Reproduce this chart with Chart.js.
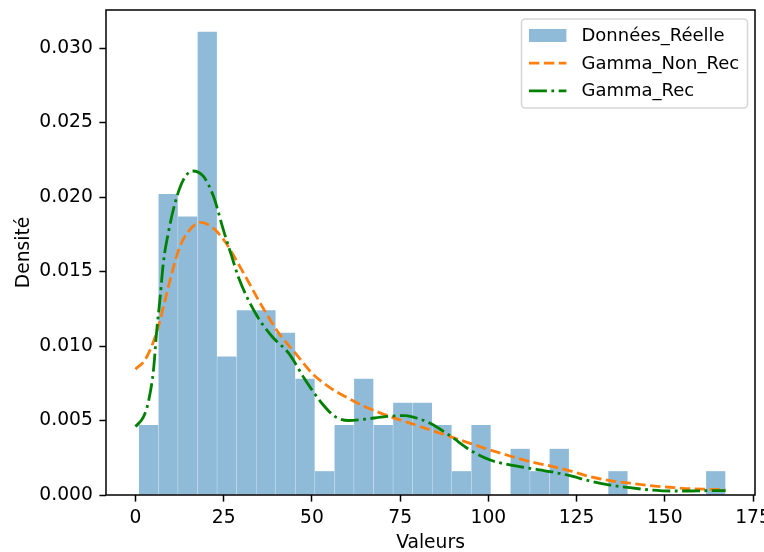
<!DOCTYPE html>
<html>
<head>
<meta charset="utf-8">
<script src="https://cdn.jsdelivr.net/npm/chart.js@4.4.1/dist/chart.umd.min.js"></script>
<style>
  html, body { margin: 0; padding: 0; background: #fff; }
  canvas { display: block; }
</style>
</head>
<body>
<canvas id="histChart" width="764" height="552"></canvas>
<script>
// histogram, 30 bins
const binStart = 0.94;
const binWidth = 5.542;
const density = [0.0047, 0.0202, 0.0187, 0.0311, 0.0093, 0.0124, 0.0124, 0.0109, 0.0078, 0.0016,
                 0.0047, 0.0078, 0.0047, 0.0062, 0.0062, 0.0047, 0.0016, 0.0047, 0, 0.0031,
                 0.0016, 0.0031, 0, 0, 0.0016, 0, 0, 0, 0, 0.0016];

// fitted curves
const nonRecX = [0, 2.7, 5.1, 7.0, 8.4, 10.3, 12.6, 15.0, 18.3, 21.6, 25.4, 28.7, 31.1, 35.9, 40.6,
                 45.3, 50.0, 54.7, 59.4, 65.1, 70.8, 77.8, 83.5, 89.2, 94.8, 100.5, 106.1, 111.8,
                 117.5, 123.1, 128.8, 134.5, 140.1, 145.8, 151.4, 157.1, 162.8, 167.2];
const nonRecY = [0.00845, 0.00907, 0.0103, 0.01176, 0.0131, 0.0149, 0.0167, 0.0177, 0.0183, 0.0180,
                 0.0170, 0.0157, 0.0147, 0.01265, 0.01087, 0.00952, 0.00818, 0.00728, 0.00661,
                 0.00593, 0.00538, 0.00482, 0.00437, 0.00392, 0.00347, 0.00302, 0.00262, 0.00224,
                 0.00195, 0.00162, 0.00123, 0.00096, 0.00079, 0.00063, 0.00052, 0.00042, 0.00038, 0.00034];

const recX = [0, 2.3, 3.7, 5.1, 6.0, 7.0, 7.9, 9.3, 11.2, 13.6, 16.2, 19.2, 22.1, 24.9, 27.3, 29.2,
              34.0, 38.7, 43.4, 48.1, 52.8, 56.6, 60.4, 65.1, 70.8, 76.4, 80.5, 83.5, 89.2, 94.8,
              100.5, 106.1, 111.8, 117.5, 123.1, 128.8, 134.5, 140.1, 145.8, 151.4, 157.1, 162.8, 167.2];
const recY = [0.00459, 0.00526, 0.0063, 0.0084, 0.0110, 0.0133, 0.0156, 0.0176, 0.0196, 0.02117,
              0.02175, 0.0214, 0.02005, 0.0178, 0.0160, 0.0146, 0.0122, 0.01064, 0.00952, 0.00773,
              0.00616, 0.00526, 0.0050, 0.00509, 0.00526, 0.00533, 0.0051, 0.00482, 0.00397, 0.00302,
              0.00235, 0.00202, 0.00179, 0.00157, 0.0013, 0.00094, 0.00067, 0.00049, 0.00034, 0.00027,
              0.00027, 0.00029, 0.00029];

const xTicks = [0, 25, 50, 75, 100, 125, 150, 175];
const yTicks = [0, 0.005, 0.010, 0.015, 0.020, 0.025, 0.030];

const histPoints = density.map((d, i) => ({ x: binStart + (i + 0.5) * binWidth, y: d }));
const nonRecPoints = nonRecX.map((x, i) => ({ x: x, y: nonRecY[i] }));
const recPoints = recX.map((x, i) => ({ x: x, y: recY[i] }));

const FS = 18.7;
const font = { family: 'DejaVu Sans', size: FS };

// black box round the plot
const framePlugin = {
  id: 'frame',
  afterDatasetsDraw(chart) {
    const { ctx, chartArea: a } = chart;
    ctx.save();
    ctx.strokeStyle = '#000';
    ctx.lineWidth = 1.5;
    ctx.strokeRect(a.left, a.top, a.right - a.left, a.bottom - a.top);
    ctx.restore();
  }
};

// legend inside the plot, top right
const legendPlugin = {
  id: 'boxLegend',
  afterDraw(chart) {
    const { ctx, chartArea: a } = chart;
    const w = 226, h = 89;
    const x0 = a.right - 7.5 - w, y0 = a.top + 9;
    ctx.save();
    ctx.beginPath();
    ctx.roundRect(x0, y0, w, h, 3.7);
    ctx.fillStyle = 'rgba(255,255,255,0.8)';
    ctx.fill();
    ctx.strokeStyle = 'rgba(204,204,204,0.8)';
    ctx.lineWidth = 1.5;
    ctx.stroke();

    const order = ['Données_Réelle', 'Gamma_Non_Rec', 'Gamma_Rec'];
    const rows = [16.5, 44.1, 71.8];
    ctx.font = '18px "DejaVu Sans"';
    ctx.textBaseline = 'middle';
    order.forEach((name, i) => {
      const ds = chart.data.datasets.find(d => d.label === name);
      const yc = y0 + rows[i];
      const hx = x0 + 7.5, hw = 37.4;
      if (ds.type === 'bar') {
        ctx.fillStyle = ds.backgroundColor;
        ctx.fillRect(hx, yc - 6.5, hw, 13);
      } else {
        ctx.beginPath();
        ctx.setLineDash(ds.borderDash);
        ctx.strokeStyle = ds.borderColor;
        ctx.lineWidth = ds.borderWidth;
        ctx.moveTo(hx, yc);
        ctx.lineTo(hx + hw, yc);
        ctx.stroke();
        ctx.setLineDash([]);
      }
      ctx.fillStyle = '#000';
      ctx.fillText(name, x0 + 60, yc + 1);
    });
    ctx.restore();
  }
};

const config = {
  type: 'bar',
  data: {
    datasets: [
      {
        type: 'line',
        label: 'Gamma_Rec',
        data: recPoints,
        borderColor: '#008000',
        borderWidth: 2.8,
        borderDash: [17.9, 4.5, 2.8, 4.5],
        borderJoinStyle: 'round',
        pointRadius: 0,
        cubicInterpolationMode: 'monotone',
        order: 1
      },
      {
        type: 'line',
        label: 'Gamma_Non_Rec',
        data: nonRecPoints,
        borderColor: '#ff7f0e',
        borderWidth: 2.8,
        borderDash: [10.4, 4.5],
        borderJoinStyle: 'round',
        pointRadius: 0,
        cubicInterpolationMode: 'monotone',
        order: 2
      },
      {
        type: 'bar',
        label: 'Données_Réelle',
        data: histPoints,
        backgroundColor: '#8fbbd9',
        borderWidth: 0,
        barPercentage: 0.985,
        categoryPercentage: 1,
        order: 3
      }
    ]
  },
  options: {
    responsive: false,
    animation: false,
    devicePixelRatio: 1,
    layout: { padding: { top: 10, right: 9, left: 0, bottom: 0 } },
    plugins: {
      legend: { display: false },
      tooltip: { enabled: false }
    },
    scales: {
      x: {
        type: 'linear',
        min: -8.36,
        max: 175.56,
        offset: false,
        border: { display: false },
        grid: { display: true, drawOnChartArea: false, drawTicks: true, tickLength: 6.6, tickColor: '#000', tickWidth: 1.5, offset: false },
        afterBuildTicks: s => { s.ticks = xTicks.map(v => ({ value: v })); },
        afterFit: s => { s.height = 57; s.paddingLeft = 0; s.paddingRight = 0; },
        ticks: { font: font, color: '#000', padding: 5, autoSkip: false, maxRotation: 0, callback: v => String(v) },
        title: { display: true, text: 'Valeurs', font: { family: 'DejaVu Sans', size: FS, lineHeight: 1 }, color: '#000', padding: { top: 0, bottom: -0.5 } }
      },
      y: {
        type: 'linear',
        min: 0,
        max: 0.03256,
        border: { display: false },
        grid: { display: true, drawOnChartArea: false, drawTicks: true, tickLength: 6.6, tickColor: '#000', tickWidth: 1.5 },
        afterBuildTicks: s => { s.ticks = yTicks.map(v => ({ value: v })); },
        afterFit: s => { s.width = 106; s.paddingTop = 0; s.paddingBottom = 0; },
        ticks: { font: font, color: '#000', padding: 6.6, callback: v => v.toFixed(3) },
        title: { display: true, text: 'Densité', font: { family: 'DejaVu Sans', size: FS, lineHeight: 1 }, color: '#000', padding: { top: 14.6, bottom: 0 } }
      }
    }
  },
  plugins: [framePlugin, legendPlugin]
};

const histChart = new Chart(
  document.getElementById('histChart'),
  config
);
</script>
</body>
</html>
